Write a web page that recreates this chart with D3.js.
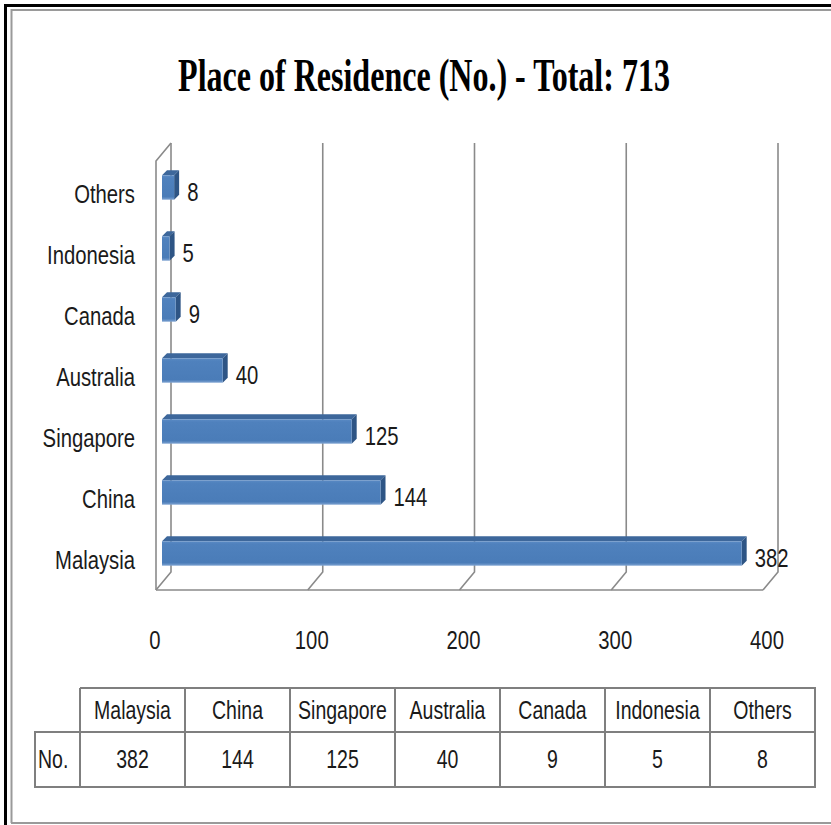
<!DOCTYPE html>
<html>
<head>
<meta charset="utf-8">
<script src="https://cdn.jsdelivr.net/npm/d3@7"></script>
<style>
  body { margin: 0; background: #fff; }
  text { font-family: "Liberation Sans", Arial, sans-serif; fill: #1a1a1a; }
</style>
</head>
<body>
<div id="chart"></div>
<script>
const categories = ["Malaysia", "China", "Singapore", "Australia", "Canada", "Indonesia", "Others"];
const counts = [382, 144, 125, 40, 9, 5, 8];
const xTicks = [0, 100, 200, 300, 400];
const titleText = "Place of Residence (No.) - Total: 713";
const rowLabel = "No.";

const W = 831, H = 825;
const depth = { dx: 15, dy: -18 };      // back wall offset from the front plane
const barDepth = { front: 6, top: 5 };  // bar placement inside the 3d box
const sx = 0.78;                        // horizontal squeeze of the text

const svg = d3.select("#chart").append("svg")
    .attr("width", W)
    .attr("height", H);

// outer frame
svg.append("path")
    .attr("d", "M5.5,825 V5.5 H831")
    .attr("fill", "none").attr("stroke", "#000").attr("stroke-width", 3);
svg.append("path")
    .attr("d", "M11.5,823 V10 H831")
    .attr("fill", "none").attr("stroke", "#9a9a9a").attr("stroke-width", 2);
svg.append("line")
    .attr("x1", 11).attr("x2", 831).attr("y1", 823).attr("y2", 823)
    .attr("stroke", "#9a9a9a").attr("stroke-width", 2);

const squeezed = (g, x, y, txt, anchor, size) => g.append("text")
    .attr("transform", `translate(${x},${y}) scale(${sx},1)`)
    .attr("text-anchor", anchor)
    .attr("font-size", size)
    .text(txt);

// title, squeezed to the width it has in the picture
const title = svg.append("text")
    .attr("text-anchor", "middle")
    .style("font-family", "'Liberation Serif', 'Times New Roman', serif")
    .style("font-weight", "bold")
    .style("fill", "#000")
    .attr("font-size", 46)
    .text(titleText);
const titleScale = 492 / title.node().getComputedTextLength();
title.attr("transform", `translate(424,91) scale(${titleScale},1)`);

// scales: x on the back wall, y bands for the bar front faces
const x = d3.scaleLinear().domain([0, 400]).range([171, 778]);
const y = d3.scaleBand()
    .domain(categories.slice().reverse())
    .range([157, 584])
    .paddingInner(0.6)
    .paddingOuter(0.3);

const wallTop = 143, wallBottom = 572;
const grid = svg.append("g")
    .attr("fill", "none")
    .attr("stroke", "#8a8a8a")
    .attr("stroke-width", 1.6);

// left wall
grid.append("path")
    .attr("d", `M${x(0) - depth.dx},${wallBottom - depth.dy} V${wallTop - depth.dy} L${x(0)},${wallTop}`);
// back gridlines with their floor slant
xTicks.forEach(t => {
    grid.append("path")
        .attr("d", `M${x(t)},${wallTop} V${wallBottom} L${x(t) - depth.dx},${wallBottom - depth.dy}`);
});
// floor front edge
grid.append("line")
    .attr("x1", x(0) - depth.dx).attr("x2", x(400) - depth.dx)
    .attr("y1", wallBottom - depth.dy).attr("y2", wallBottom - depth.dy);

// bar gradient
const defs = svg.append("defs");
const grad = defs.append("linearGradient")
    .attr("id", "barFront").attr("x1", 0).attr("x2", 0).attr("y1", 0).attr("y2", 1);
grad.append("stop").attr("offset", "0%").attr("stop-color", "#5a8ac4");
grad.append("stop").attr("offset", "12%").attr("stop-color", "#4f81bd");
grad.append("stop").attr("offset", "88%").attr("stop-color", "#4a7cb8");
grad.append("stop").attr("offset", "100%").attr("stop-color", "#7ea3d2");

const data = categories.map((c, i) => ({ name: c, value: counts[i] }));
const front0 = x(0) - depth.dx + barDepth.front;
const fx = v => x(v) - depth.dx + barDepth.front;

const bars = svg.append("g").selectAll("g.bar")
    .data(data)
    .join("g")
    .attr("class", "bar");

// top face
bars.append("path")
    .attr("d", d => {
        const y0 = y(d.name), x1 = fx(d.value), t = barDepth.top;
        return `M${front0},${y0} L${front0 + t},${y0 - t} L${x1 + t},${y0 - t} L${x1},${y0} Z`;
    })
    .attr("fill", "#3d679b");
// side face
bars.append("path")
    .attr("d", d => {
        const y0 = y(d.name), x1 = fx(d.value), t = barDepth.top, h = y.bandwidth();
        return `M${x1},${y0} L${x1 + t},${y0 - t} L${x1 + t},${y0 + h - t} L${x1},${y0 + h} Z`;
    })
    .attr("fill", "#2e5585");
// front face
bars.append("rect")
    .attr("x", front0)
    .attr("y", d => y(d.name))
    .attr("width", d => fx(d.value) - front0)
    .attr("height", y.bandwidth())
    .attr("fill", "url(#barFront)");

// value labels
data.forEach(d => {
    squeezed(svg, fx(d.value) + 13, y(d.name) + y.bandwidth() / 2 + 13, d.value, "start", 26);
});

// category labels
data.forEach(d => {
    squeezed(svg, 135, y(d.name) + y.bandwidth() / 2 + 15, d.name, "end", 26);
});

// x tick labels
xTicks.forEach(t => {
    squeezed(svg, x(t) - depth.dx + (t === 0 ? -1 : 4), 649, t, "middle", 26);
});

// data table
const col = d3.scaleBand().domain(categories).range([80, 815]);
const rowTop = 688, rowMid = 732, rowBottom = 787, labelLeft = 35;
const table = svg.append("g")
    .attr("fill", "none")
    .attr("stroke", "#7f7f7f")
    .attr("stroke-width", 2);
table.append("path")
    .attr("d", `M${col.range()[0]},${rowTop} H${col.range()[1]} V${rowBottom} H${labelLeft} V${rowMid} H${col.range()[1]}`);
categories.forEach(c => {
    table.append("line")
        .attr("x1", col(c)).attr("x2", col(c))
        .attr("y1", rowTop).attr("y2", rowBottom);
});

categories.forEach((c, i) => {
    squeezed(svg, col(c) + col.bandwidth() / 2, 719, c, "middle", 25);
    squeezed(svg, col(c) + col.bandwidth() / 2, 768, counts[i], "middle", 25);
});
squeezed(svg, labelLeft + 3, 768, rowLabel, "start", 25);
</script>
</body>
</html>
